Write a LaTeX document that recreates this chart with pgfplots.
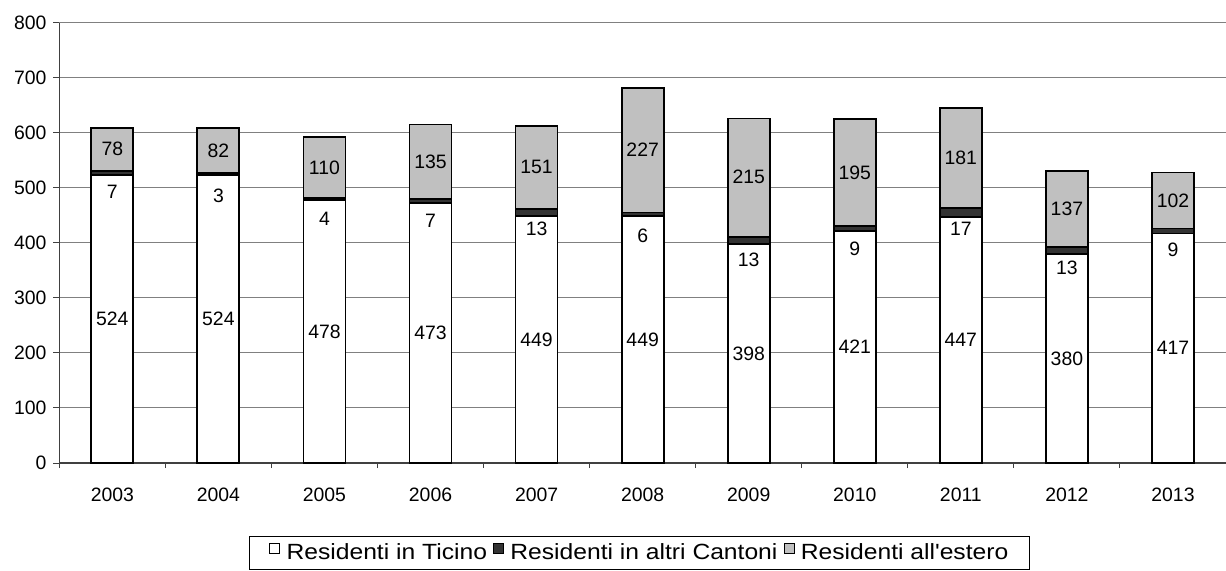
\documentclass[border=0pt]{standalone}
\usepackage{pgfplots}
\pgfplotsset{compat=1.18}
\usepackage{pgfplotstable}
\usepackage{fontspec}
\setmainfont{Liberation Sans}
\newfontfamily\legfam[FakeStretch=1.12]{Liberation Sans}
\definecolor{cant}{HTML}{333333}
\definecolor{est}{HTML}{C0C0C0}
\definecolor{gridc}{HTML}{808080}
\newcommand\chf{\fontsize{9.7}{11.6}\selectfont}
\newcommand\legf{\legfam\fontsize{11}{13}\selectfont}
\pgfplotsset{
  common/.style={
    scale only axis, width=583.35pt, height=220.15pt,
    xmin=-0.5, xmax=10.5, ymin=0, ymax=800,
    at={(0,0)}, anchor=south west,
  },
  sq/.style={legend image code/.code={\draw[##1, line width=0.5pt] (0pt,-0.1pt) rectangle (5pt,4.9pt);}},
}
\pgfplotstableread{
x T C E
0 524 7 78
1 524 3 82
2 478 4 110
3 473 7 135
4 449 13 151
5 449 6 227
6 398 13 215
7 421 9 195
8 447 17 181
9 380 13 137
10 417 9 102
}\data
\pgfplotstableread{
x Tc Cc Ec Tl Cl El
0 262 492 570 524 7 78
1 262 486 568 524 3 82
2 239 443 537 478 4 110
3 236.5 440 547.5 473 7 135
4 224.5 425 537.5 449 13 151
5 224.5 412 568.5 449 6 227
6 199 370 520 398 13 215
7 210.5 390 527.5 421 9 195
8 223.5 425 554.5 447 17 181
9 190 355 461.5 380 13 137
10 208.5 388 477 417 9 102
}\labels
\begin{document}
\chf
\begin{tikzpicture}
\useasboundingbox (-29.65pt,-53.5pt) rectangle (583.35pt,231.5pt);
\begin{axis}[common,
  ybar stacked, bar width=0.396,
  axis x line*=bottom, axis y line*=left,
  axis line style={black!75, line width=0.6pt},
  xtick={0,...,10},
  xticklabels={2003,2004,2005,2006,2007,2008,2009,2010,2011,2012,2013},
  minor xtick={-0.5,0.5,...,10.5},
  ytick={0,100,...,800},
  ymajorgrids, grid style={gridc, line width=0.5pt},
  tick align=outside,
  major tick length=3pt, minor tick length=2.5pt,
  major x tick style={draw=none},
  minor x tick style={black!75, line width=0.5pt},
  ytick style={black!75, line width=0.5pt},
  tick label style={font=\chf},
  /pgf/number format/assume math mode=true,
  xticklabel style={yshift=-5.9pt},
  legend style={at={(0.5,0)}, anchor=north, yshift=-36.5pt, xshift=-1.6pt, legend columns=3,
    draw=black, line width=0.5pt, inner xsep=10pt, inner ysep=2.5pt,
    column sep=2.5pt,
    nodes={inner xsep=0.6pt, inner ysep=1pt},
    font=\legf},
  legend cell align=left,
]
\addplot[sq, fill=white, draw=black, line width=0.9pt] table[x=x, y=T] {\data};
\addplot[sq, fill=cant, draw=black, line width=0.9pt] table[x=x, y=C] {\data};
\addplot[sq, fill=est, draw=black, line width=0.9pt] table[x=x, y=E] {\data};
\legend{Residenti in Ticino, Residenti in altri Cantoni, Residenti all'estero}
\end{axis}
\begin{axis}[common, hide axis, clip=false,
  nodes near coords style={font=\chf, anchor=center, black},
]
\addplot[draw=none, mark=none, nodes near coords, point meta=explicit symbolic] table[x=x, y=Tc, meta=Tl] {\labels};
\addplot[draw=none, mark=none, nodes near coords, point meta=explicit symbolic] table[x=x, y=Cc, meta=Cl] {\labels};
\addplot[draw=none, mark=none, nodes near coords, point meta=explicit symbolic] table[x=x, y=Ec, meta=El] {\labels};
\end{axis}
\end{tikzpicture}
\end{document}
